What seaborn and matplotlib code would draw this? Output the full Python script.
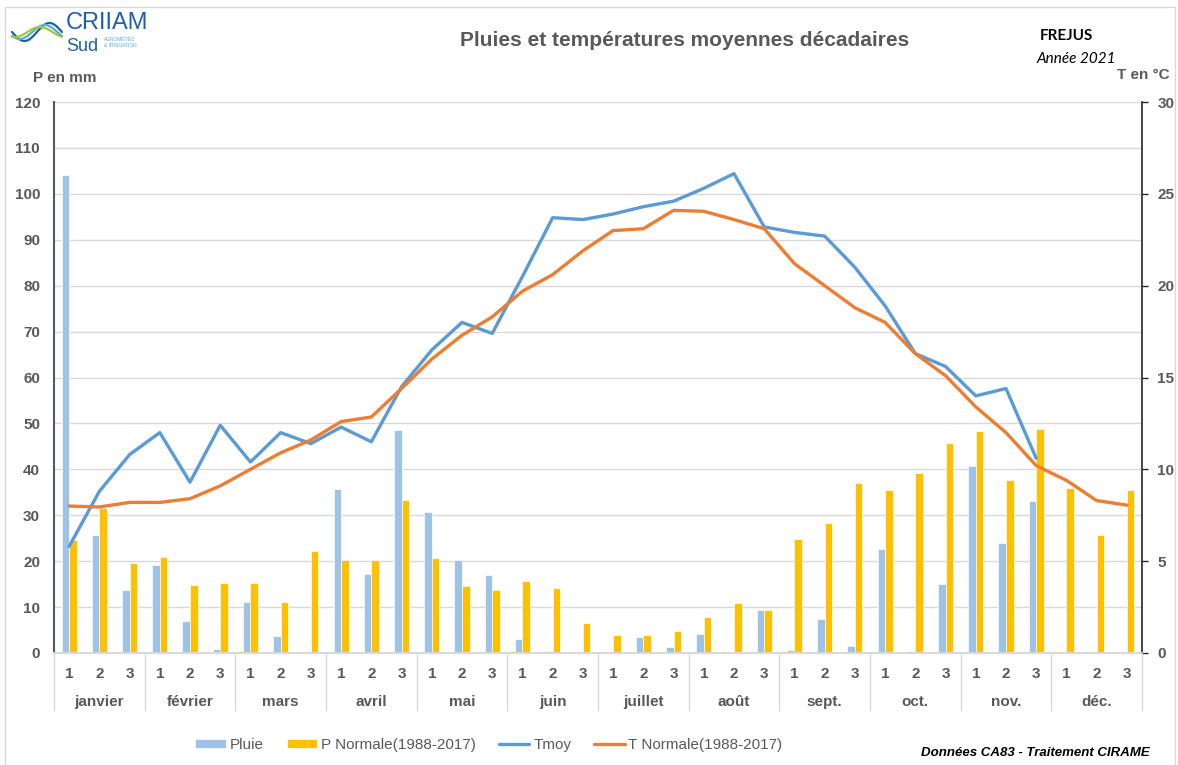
import numpy as np
import pandas as pd
import matplotlib.pyplot as plt
import seaborn as sns
from matplotlib.patches import Rectangle
from matplotlib.lines import Line2D

# ---------- data (décades 1,2,3 de chaque mois) ----------
mois = ['janvier', 'février', 'mars', 'avril', 'mai', 'juin', 'juillet',
        'août', 'sept.', 'oct.', 'nov.', 'déc.']
decade_labels = ['1', '2', '3'] * 12

pluie = [104.0, 25.8, 13.8, 19.2, 7.0, 0.8, 11.2, 3.8, 0.5,
         35.8, 17.2, 48.6, 30.8, 20.2, 17.0, 3.0, 0.5, 0.0,
         0.3, 3.5, 1.4, 4.2, 0.0, 9.4, 0.7, 7.4, 1.6,
         22.6, 0.5, 15.1, 40.8, 24.0, 33.2, 0.0, 0.0, 0.0]
p_normale = [24.7, 31.5, 19.7, 20.9, 14.8, 15.3, 15.2, 11.1, 22.3,
             20.2, 20.2, 33.4, 20.7, 14.5, 13.7, 15.7, 14.2, 6.6,
             3.9, 4.0, 4.7, 7.9, 10.9, 9.3, 24.9, 28.4, 37.0,
             35.4, 39.2, 45.7, 48.4, 37.7, 48.8, 36.0, 25.7, 35.6]
tmoy = [5.8, 8.8, 10.8, 12.0, 9.3, 12.4, 10.4, 12.0, 11.4,
        12.3, 11.5, 14.5, 16.5, 18.0, 17.4, 20.5, 23.7, 23.6,
        23.9, 24.3, 24.6, 25.3, 26.1, 23.2, 22.9, 22.7, 21.0,
        18.9, 16.3, 15.6, 14.0, 14.4, 10.6, np.nan, np.nan, np.nan]
t_normale = [8.0, 7.95, 8.2, 8.2, 8.4, 9.1, 10.0, 10.9, 11.6,
             12.6, 12.85, 14.4, 16.0, 17.3, 18.3, 19.7, 20.6, 21.9,
             23.0, 23.1, 24.1, 24.05, 23.6, 23.1, 21.2, 20.0, 18.8,
             18.0, 16.3, 15.1, 13.4, 12.0, 10.2, 9.4, 8.3, 8.05]

idx = list(range(36))
bars = pd.DataFrame({
    'decade': idx * 2,
    'serie': ['Pluie'] * 36 + ['P Normale(1988-2017)'] * 36,
    'mm': pluie + p_normale,
})
lines = pd.DataFrame({
    'decade': idx * 2,
    'serie': ['Tmoy'] * 36 + ['T Normale(1988-2017)'] * 36,
    'temp': tmoy + t_normale,
})

gris = '#595959'
sns.set_theme(style='white')
plt.rcParams['font.family'] = ['Liberation Sans', 'DejaVu Sans']

fig = plt.figure(figsize=(11.78, 7.65), dpi=100)
ax = fig.add_axes([54 / 1178, 1 - 653 / 765, 1088 / 1178, 551 / 765])

sns.barplot(data=bars, x='decade', y='mm', hue='serie',
            palette=['#9DC3E6', '#FFC000'], width=0.5, gap=0,
            saturation=1, edgecolor='white', linewidth=0.5, ax=ax)

ax2 = ax.twinx()
sns.lineplot(data=lines, x='decade', y='temp', hue='serie',
             palette=['#5B9BD5', '#ED7D31'], estimator=None,
             linewidth=2.4, ax=ax2)

# axe gauche
ax.set_ylim(0, 120)
ax.set_yticks(range(0, 121, 10))
ax.set_axisbelow(True)
ax.yaxis.grid(True, color='#D9D9D9', linewidth=1)
ax.set_ylabel('')
ax.set_xlabel('')
ax.tick_params(axis='y', length=0, pad=10, labelsize=11, labelcolor=gris)
for t in ax.get_yticklabels():
    t.set_fontweight('bold')

# axe droit
ax2.set_ylim(0, 30)
ax2.set_yticks(range(0, 31, 5))
ax2.set_ylabel('')
ax2.tick_params(axis='y', length=4, width=1, color='#262626', direction='out',
                pad=7, labelsize=11, labelcolor=gris, right=True)
for t in ax2.get_yticklabels():
    t.set_fontweight('bold')

# axe x à deux niveaux
ax.set_xlim(-0.5, 35.5)
ax.set_xticks(idx)
ax.set_xticklabels(decade_labels, fontsize=11, fontweight='bold', color=gris)
ax.tick_params(axis='x', which='major', length=0, pad=10)
ax.set_xticks(np.arange(-0.5, 36, 3), minor=True)
ax.tick_params(axis='x', which='minor', length=42, width=1, color='#D9D9D9',
               direction='out', bottom=True)
for m, nom in enumerate(mois):
    ax.text(3 * m + 1, -0.089, nom, transform=ax.get_xaxis_transform(),
            ha='center', va='center', fontsize=11, fontweight='bold', color=gris)

for a in (ax, ax2):
    a.spines['top'].set_visible(False)
    a.spines['bottom'].set_color('#D9D9D9')
ax.spines['left'].set_color(gris)
ax.spines['left'].set_linewidth(1.5)
ax.spines['right'].set_visible(False)
ax2.spines['left'].set_visible(False)
ax2.spines['right'].set_color('#262626')
ax2.spines['right'].set_linewidth(1.2)

# légende
h1, l1 = ax.get_legend_handles_labels()
h2, l2 = ax2.get_legend_handles_labels()
ax.get_legend().remove()
ax2.get_legend().remove()
fig.legend(h1 + h2, l1 + l2, loc='center', ncol=4, frameon=False,
           bbox_to_anchor=(489 / 1178, 1 - 745 / 765),
           prop={'size': 11}, handlelength=2.0, handleheight=0.6,
           handletextpad=0.25, columnspacing=1.5, labelcolor=gris)

# textes
fig.text(685 / 1178, 1 - 40 / 765, 'Pluies et températures moyennes décadaires',
         ha='center', va='center', fontsize=15, fontweight='bold', color=gris)
fig.text(1040 / 1178, 1 - 36 / 765, 'FREJUS', ha='left', va='center',
         fontsize=11, fontweight='bold', color='black', family=['Lato', 'DejaVu Sans'])
fig.text(1036 / 1178, 1 - 59 / 765, 'Année 2021', ha='left', va='center',
         fontsize=11, fontstyle='italic', color='black', family=['Lato', 'DejaVu Sans'])
fig.text(65 / 1178, 1 - 78 / 765, 'P en mm', ha='center', va='center',
         fontsize=11, fontweight='bold', color=gris)
fig.text(1143 / 1178, 1 - 75 / 765, 'T en °C', ha='center', va='center',
         fontsize=11, fontweight='bold', color=gris)
fig.text(1150 / 1178, 1 - 753 / 765, 'Données CA83 - Traitement CIRAME',
         ha='right', va='center', fontsize=9.5, fontweight='bold', fontstyle='italic',
         color='black')

# logo CRIIAM Sud
fig.text(66 / 1178, 1 - 29 / 765, 'CRIIAM', ha='left', va='baseline',
         fontsize=17, color='#1F5FA8')
fig.text(66 / 1178, 1 - 51 / 765, 'Sud', ha='left', va='baseline',
         fontsize=13, color='#1F5FA8')
fig.text(104 / 1178, 1 - 37 / 765, 'AGROMÉTÉO\n& IRRIGATION', ha='left', va='top',
         fontsize=3.5, color='#5AA9DC', linespacing=1.3)
s = np.linspace(0, 1, 40)
for col, amp, ph in [('#1F5FA8', 9, 0.0), ('#5AA9DC', 7, 0.6), ('#9BC93C', 5, 1.2)]:
    xs = (12 + 50 * s) / 1178
    ys = 1 - (32 + amp * np.sin(2 * np.pi * s + ph)) / 765
    fig.add_artist(Line2D(xs, ys, color=col, linewidth=1.6, transform=fig.transFigure))

# cadre
fig.add_artist(Rectangle((5 / 1178, -0.01), 1170 / 1178, 1.01 - 7 / 765,
                         transform=fig.transFigure, fill=False,
                         edgecolor='#D9D9D9', linewidth=1))

fig.savefig('out.png', dpi=100)
